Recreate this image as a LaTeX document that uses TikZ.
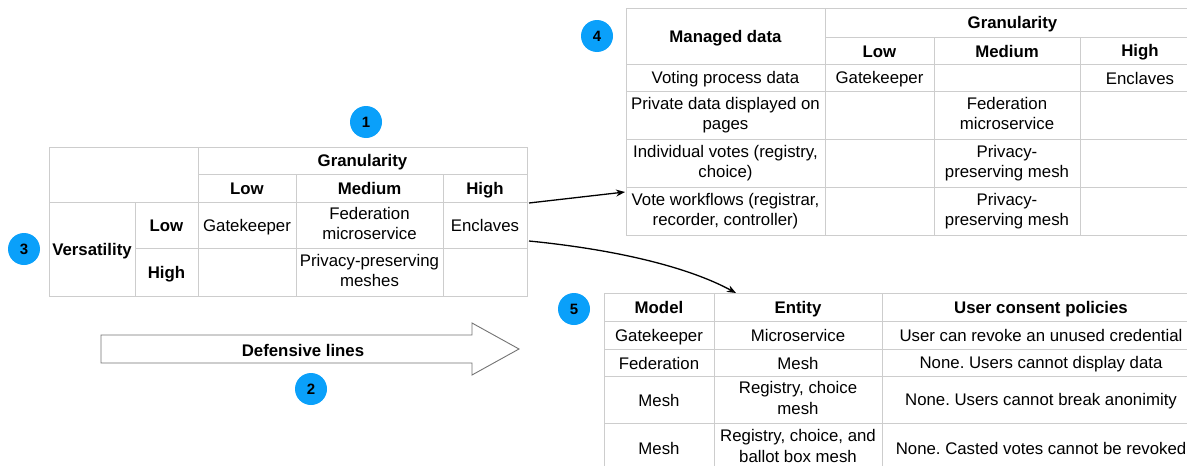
\documentclass[tikz,border=0pt]{standalone}
\usepackage{fontspec}
\setmainfont{Liberation Sans}
\usetikzlibrary{arrows.meta}
\definecolor{gridc}{RGB}{205,205,205}
\definecolor{badge}{RGB}{10,160,250}
\newcommand\fs{\fontsize{16.8}{20.5}\selectfont\frenchspacing}
\newcommand\mystrut{\rule[-3pt]{0pt}{19pt}}
\newcommand\tcell[6]{\node[cell, minimum width={(#4-#2)*1pt}, minimum height={(#5-#3)*1pt}] (#1) at ({(#2+#4)/2},{(#3+#5)/2}) {#6};}
\begin{document}
\begin{tikzpicture}[x=1pt,y=-1pt,
  cell/.style={draw=gridc, line width=0.9pt, inner sep=0pt, align=center, font=\fs,
    execute at begin node=\mystrut, execute at end node=\mystrut},
  badgenode/.style={circle, fill=badge, minimum size=32pt, inner sep=0pt, font=\fontsize{15}{15}\selectfont\bfseries},
  conn/.style={line width=1.3pt, -{Stealth[length=9pt,width=7pt]}},
  bigarrow/.style={draw=black!55, line width=0.9pt, fill=white}]
\useasboundingbox (0,0) rectangle (1187,466);
% ---------- Table 1 ----------
\tcell{ta}{49}{147}{198}{202}{}
\tcell{tgran}{198}{147}{527}{174}{\bfseries Granularity}
\tcell{tlow}{198}{174}{296}{202}{\bfseries Low}
\tcell{tmed}{296}{174}{443}{202}{\bfseries Medium}
\tcell{thigh}{443}{174}{527}{202}{\bfseries High}
\tcell{tvers}{49}{202}{135}{296}{\bfseries Versatility}
\tcell{tvlow}{135}{202}{198}{248}{\bfseries Low}
\tcell{tvhigh}{135}{248}{198}{296}{\bfseries High}
\tcell{tgate}{198}{202}{296}{248}{Gatekeeper}
\tcell{tfed}{296}{202}{443}{248}{Federation\\microservice}
\tcell{tencl}{443}{202}{527}{248}{Enclaves}
\tcell{te1}{198}{248}{296}{296}{}
\tcell{tmesh}{296}{248}{443}{296}{Privacy-preserving\\meshes}
\tcell{te2}{443}{248}{527}{296}{}
% ---------- Table 4 ----------
\tcell{mdata}{626}{8}{825}{64}{\bfseries Managed data}
\tcell{mgran}{825}{8}{1200}{37}{\bfseries Granularity}
\tcell{mlow}{825}{37}{934}{64}{\bfseries Low}
\tcell{mmed}{934}{37}{1080}{64}{\bfseries Medium}
\tcell{mhigh}{1080}{37}{1200}{64}{\bfseries High}
\tcell{ma1}{626}{64}{825}{91}{Voting process data}
\tcell{ma2}{825}{64}{934}{91}{Gatekeeper}
\tcell{ma3}{934}{64}{1080}{91}{}
\tcell{ma4}{1080}{64}{1200}{91}{Enclaves}
\tcell{mb1}{626}{91}{825}{139}{Private data displayed on\\pages}
\tcell{mb2}{825}{91}{934}{139}{}
\tcell{mb3}{934}{91}{1080}{139}{Federation\\microservice}
\tcell{mb4}{1080}{91}{1200}{139}{}
\tcell{mc1}{626}{139}{825}{187}{Individual votes (registry,\\choice)}
\tcell{mc2}{825}{139}{934}{187}{}
\tcell{mc3}{934}{139}{1080}{187}{Privacy-\\preserving mesh}
\tcell{mc4}{1080}{139}{1200}{187}{}
\tcell{md1}{626}{187}{825}{235}{Vote workflows (registrar,\\recorder, controller)}
\tcell{md2}{825}{187}{934}{235}{}
\tcell{md3}{934}{187}{1080}{235}{Privacy-\\preserving mesh}
\tcell{md4}{1080}{187}{1200}{235}{}
% ---------- Table 5 ----------
\tcell{pmodel}{604}{293}{714}{321}{\bfseries Model}
\tcell{pent}{714}{293}{882}{321}{\bfseries Entity}
\tcell{ppol}{882}{293}{1200}{321}{\bfseries User consent policies}
\tcell{pa1}{604}{321}{714}{349}{Gatekeeper}
\tcell{pa2}{714}{321}{882}{349}{Microservice}
\tcell{pa3}{882}{321}{1200}{349}{User can revoke an unused credential}
\tcell{pb1}{604}{349}{714}{376}{Federation}
\tcell{pb2}{714}{349}{882}{376}{Mesh}
\tcell{pb3}{882}{349}{1200}{376}{None. Users cannot display data}
\tcell{pc1}{604}{376}{714}{423}{Mesh}
\tcell{pc2}{714}{376}{882}{423}{Registry, choice\\mesh}
\tcell{pc3}{882}{376}{1200}{423}{None. Users cannot break anonimity}
\tcell{pd1}{604}{423}{714}{472}{Mesh}
\tcell{pd2}{714}{423}{882}{472}{Registry, choice, and\\ballot box mesh}
\tcell{pd3}{882}{423}{1200}{472}{None. Casted votes cannot be revoked}
% ---------- Defensive lines arrow ----------
\draw[bigarrow] (101,335) -- (472,335) -- (472,323) -- (519,349) -- (472,375) -- (472,363) -- (101,363) -- cycle;
\node[font=\fs\bfseries] (deflab) at (303,350) {Defensive lines};
% ---------- Badges ----------
\node[badgenode] (b1) at (366,122) {1};
\node[badgenode] (b2) at (311,389) {2};
\node[badgenode] (b3) at (24,249) {3};
\node[badgenode] (b4) at (597,36) {4};
\node[badgenode] (b5) at (574,309) {5};
% ---------- Connectors ----------
\coordinate (c1s) at (529,203);
\coordinate (c1e) at (625,192);
\coordinate (c2s) at (529,241);
\coordinate (c2e) at (736,293);
\draw[conn] (c1s) -- (c1e);
\draw[conn] (c2s) .. controls (620,250) and (690,268) .. (c2e);
\end{tikzpicture}
\end{document}
